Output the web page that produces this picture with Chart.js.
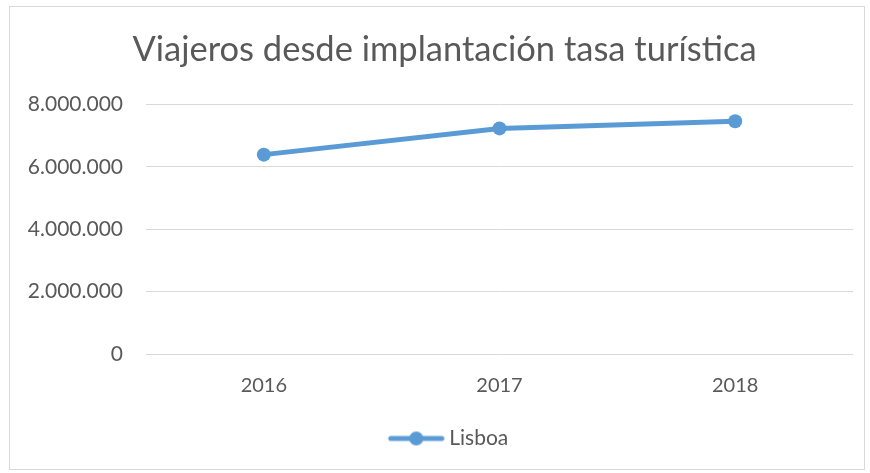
<!DOCTYPE html>
<html>
<head>
<meta charset="utf-8">
<script src="https://cdn.jsdelivr.net/npm/chart.js@4/dist/chart.umd.min.js"></script>
<style>
  html, body { margin: 0; padding: 0; background: #fff; }
  #wrap { position: relative; width: 870px; height: 473px; }
  #frame { position: absolute; left: 9px; top: 6px; width: 856px; height: 464px; border: 1px solid #D9D9D9; box-sizing: border-box; }
  canvas { position: absolute; left: 0; top: 0; }
</style>
</head>
<body>
<div id="wrap">
  <div id="frame"></div>
  <canvas id="c" width="870" height="473"></canvas>
</div>
<script>
const titleText = "Viajeros desde implantación tasa turística";
const categories = ["2016", "2017", "2018"];
const seriesName = "Lisboa";
const lisboa = [6390000, 7230000, 7460000];
const yMin = 0, yMax = 8000000, yStep = 2000000;

const LINE = "#5B9BD5";
const TEXT = "#595959";
const FONT = "Lato, 'Open Sans', sans-serif";
const LEG_SIZE = 21;

function fmt(v) {
  return String(Math.round(v)).replace(/\B(?=(\d{3})+(?!\d))/g, ".");
}

// legend marker geometry (line with a circle), sized so the text sits close to it
const mctx = document.createElement("canvas").getContext("2d");
mctx.font = LEG_SIZE + "px Lato";
const textW = mctx.measureText(seriesName).width;
const BOXW = Math.round(35 + textW);
const mk = document.createElement("canvas");
mk.width = BOXW + 12; mk.height = 16;
(function () {
  const g = mk.getContext("2d");
  const x1 = mk.width - 56, x2 = mk.width - 1;
  g.strokeStyle = LINE; g.lineWidth = 5; g.lineCap = "round";
  g.beginPath(); g.moveTo(x1 + 2, 8); g.lineTo(x2 - 2, 8); g.stroke();
  g.fillStyle = LINE;
  g.beginPath(); g.arc((x1 + x2) / 2, 8, 7, 0, Math.PI * 2); g.fill();
})();

new Chart(document.getElementById("c"), {
  type: "line",
  data: {
    labels: categories,
    datasets: [{
      label: seriesName,
      data: lisboa,
      borderColor: LINE,
      backgroundColor: LINE,
      borderWidth: 5,
      pointStyle: "circle",
      pointRadius: 7,
      pointHoverRadius: 7,
      pointBackgroundColor: LINE,
      pointBorderWidth: 0,
      tension: 0
    }]
  },
  options: {
    responsive: false,
    animation: false,
    layout: { padding: { left: 0, right: 17, top: 0, bottom: 14 } },
    plugins: {
      title: {
        display: true,
        text: titleText,
        color: TEXT,
        font: { family: FONT, size: 34.5, weight: "normal" },
        padding: { top: 29, bottom: 34 }
      },
      legend: {
        position: "bottom",
        labels: {
          color: TEXT,
          font: { family: FONT, size: LEG_SIZE },
          usePointStyle: true,
          pointStyleWidth: BOXW,
          padding: 10,
          generateLabels: function (ch) {
            return ch.data.datasets.map((d, i) => ({
              text: d.label,
              pointStyle: mk,
              fillStyle: LINE,
              strokeStyle: "transparent",
              lineWidth: 0,
              fontColor: TEXT,
              hidden: false,
              datasetIndex: i
            }));
          }
        }
      },
      tooltip: { enabled: false }
    },
    scales: {
      x: {
        offset: true,
        grid: { display: false, drawTicks: false },
        border: { display: false },
        ticks: { color: TEXT, font: { family: FONT, size: 20 }, padding: 20 }
      },
      y: {
        min: yMin, max: yMax,
        grid: { color: "#D9D9D9", lineWidth: 1, drawTicks: false },
        border: { display: false },
        ticks: {
          stepSize: yStep,
          color: TEXT,
          font: { family: FONT, size: 21 },
          padding: 23,
          callback: (v) => fmt(v)
        },
        afterFit: (s) => { s.width = 146; }
      }
    }
  },
  plugins: [{
    id: "titleShift",
    afterLayout(chart) {
      const t = chart.titleBlock;
      if (t) { t.left += 18; t.right += 18; }
    }
  }]
});
</script>
</body>
</html>
